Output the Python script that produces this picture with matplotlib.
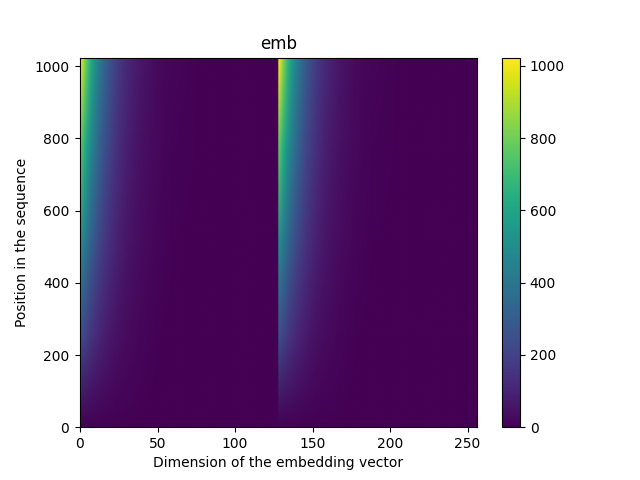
import numpy as np
import matplotlib
matplotlib.use("Agg")
import matplotlib.pyplot as plt
from matplotlib.colors import Normalize
from matplotlib.image import NonUniformImage
from matplotlib.patches import Rectangle

# values, the two halves of the vector look the same
dims_a = [0, 2, 4, 6, 8, 10, 13, 16, 20, 25, 30, 35, 40, 50, 60, 80, 100, 127]
dims_b = [128, 130, 132, 134, 136, 138, 141, 144, 148, 153, 158, 163, 168, 178, 188, 208, 228, 256]
positions = [0, 256, 512, 768, 1024]

row_0 = [0, 0, 0, 0, 0, 0, 0, 0, 0, 0, 0, 0, 0, 0, 0, 0, 0, 0]
row_256 = [256, 222, 192, 166, 144, 125, 100, 80, 60, 42, 29, 20, 14, 7, 3, 1, 0, 0]
row_512 = [512, 443, 384, 332, 288, 249, 200, 161, 120, 84, 58, 41, 28, 14, 7, 2, 1, 0]
row_768 = [768, 665, 576, 498, 432, 374, 300, 241, 180, 125, 87, 61, 42, 20, 10, 2, 1, 0]
row_1024 = [1023, 886, 767, 664, 575, 498, 399, 321, 240, 167, 116, 81, 56, 27, 13, 3, 1, 0]

half = np.array([row_0, row_256, row_512, row_768, row_1024])
emb = np.hstack([half, half])
x = np.array(dims_a + dims_b)

fig, ax = plt.subplots(figsize=(6.4, 4.8), dpi=100)
im = NonUniformImage(ax, interpolation="bilinear", cmap="viridis", norm=Normalize(0, 1023))
im.set_data(x, positions, emb)
ax.add_image(im)
# the image comes out one pixel too tall, cut it at the spine
im.set_clip_path(Rectangle((0, 0), 1, 0.998, transform=ax.transAxes))
ax.set_xlim(0, 256)
ax.set_ylim(0, 1024)
ax.tick_params(axis="y", pad=4.2)
ax.set_title("emb")
ax.set_xlabel("Dimension of the embedding vector")
ax.set_ylabel("Position in the sequence")
fig.colorbar(im, ax=ax)
fig.savefig("out.png")
